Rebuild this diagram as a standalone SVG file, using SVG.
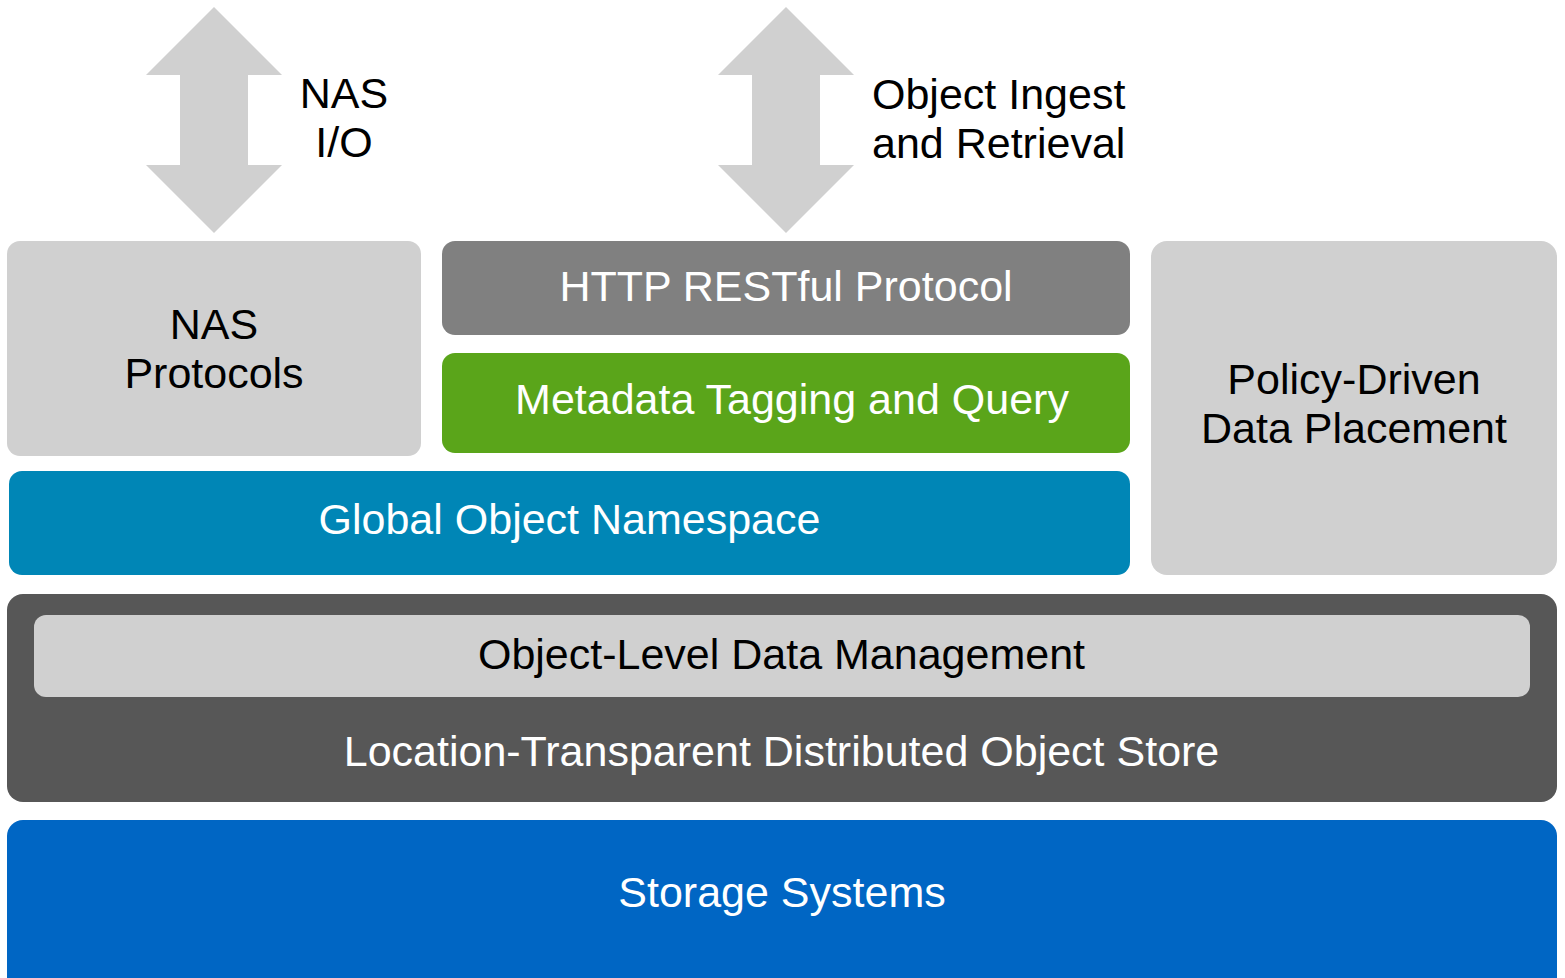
<svg xmlns="http://www.w3.org/2000/svg" width="1565" height="978" viewBox="0 0 1565 978">
<style>
text{font-family:"Liberation Sans",Arial,sans-serif;font-size:43px;text-anchor:middle}
.w{fill:#ffffff}.k{fill:#000000}
.lg{fill:#d0d0d0}
</style>
<rect width="1565" height="978" fill="#ffffff"/>
<g id="connectors">
<polygon class="lg" points="214,7 282,75 248,75 248,165 282,165 214,233 146,165 180,165 180,75 146,75"/>
<polygon class="lg" points="786,7 854,75 820,75 820,165 854,165 786,233 718,165 752,165 752,75 718,75"/>
</g>
<g id="label-nas-io"><text class="k" x="344" y="108">NAS</text><text class="k" x="344" y="157">I/O</text></g>
<g id="label-object-ingest"><text class="k" x="872" y="109" style="text-anchor:start">Object Ingest</text><text class="k" x="872" y="158" style="text-anchor:start">and Retrieval</text></g>
<g id="nas-protocols"><rect class="lg" x="7" y="241" width="414" height="215" rx="13"/><text class="k" x="214" y="339">NAS</text><text class="k" x="214" y="388">Protocols</text></g>
<g id="http"><rect x="442" y="241" width="688" height="94" rx="13" fill="#808080"/><text class="w" x="786" y="301">HTTP RESTful Protocol</text></g>
<g id="metadata"><rect x="442" y="353" width="688" height="100" rx="13" fill="#5aa51a"/><text class="w" x="792" y="414">Metadata Tagging and Query</text></g>
<g id="global"><rect x="9" y="471" width="1121" height="104" rx="13" fill="#0086b6"/><text class="w" x="569.5" y="534">Global Object Namespace</text></g>
<g id="policy"><rect class="lg" x="1151" y="241" width="406" height="334" rx="16"/><text class="k" x="1354" y="394">Policy-Driven</text><text class="k" x="1354" y="443">Data Placement</text></g>
<g id="object-store"><rect x="7" y="594" width="1550" height="208" rx="16" fill="#575757"/><text class="w" x="781.5" y="766">Location-Transparent Distributed Object Store</text></g>
<g id="object-level"><rect class="lg" x="34" y="615" width="1496" height="82" rx="12"/><text class="k" x="781.5" y="669">Object-Level Data Management</text></g>
<g id="storage"><rect x="7" y="820" width="1550" height="180" rx="16" fill="#0066c4"/><text class="w" x="782" y="907">Storage Systems</text></g>
</svg>
